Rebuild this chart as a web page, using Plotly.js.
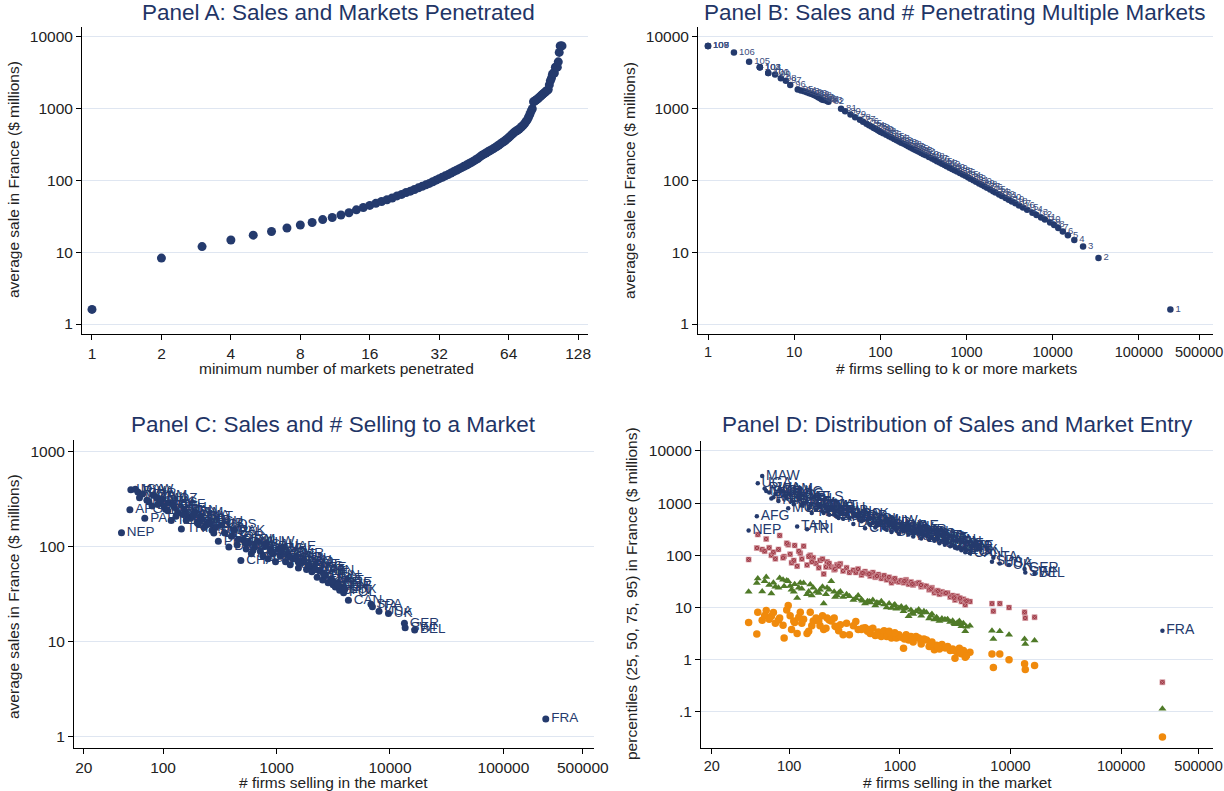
<!DOCTYPE html>
<html>
<head>
<meta charset="utf-8">
<script src="https://cdn.plot.ly/plotly-3.0.1.min.js"></script>
<style>
html,body{margin:0;padding:0;background:#fff;}
#chart{width:1224px;height:791px;}
</style>
</head>
<body>
<div id="chart"></div>
<script>
// ---------- Panels A & B : k = minimum number of markets ----------
const kMarkets = [1,2,3,4,5,6,7,8,9,10,11,12,13,14,15,16,17,18,19,20,21,22,23,24,25,26,27,28,29,30,
31,32,33,34,35,36,37,38,39,40,41,42,43,44,45,46,47,48,49,50,51,52,53,54,55,56,57,58,59,60,
61,62,63,64,65,66,67,68,69,70,71,72,73,74,75,76,77,78,79,80,81,82,83,84,85,86,87,88,89,90,
91,92,93,94,95,96,97,98,99,100,101,102,103,104,105,106,107,108,109];
const avgSale = [1.6,8.3,12,14.8,17.3,19.5,21.8,24,26,28.5,30.5,33,35.5,39,42,45,48,51,54,57,
61,64,68,71,75,79,83,87,91,96,101,106,111,116,121,127,133,139,145,151,158,164,171,178,186,194,202,213,224,233,
242,251,260,269,278,289,300,312,324,337,350,364,380,396,415,435,455,475,490,505,520,540,565,590,620,660,700,760,830,920,
1000,1250,1280,1320,1350,1400,1450,1500,1550,1600,1650,1700,1750,1800,1850,2150,2450,2650,3000,3150,3150,3800,3800,3800,4500,6100,7500,7500,7500];
const firmsK = [232000,34000,22500,17800,15000,13100,11600,10400,9330,8110,7330,6480,5820,5050,4520,4070,3690,3360,3090,2840,
2570,2390,2170,2040,1880,1730,1610,1500,1400,1290,1200,1110,1040,970,905,838,778,726,679,635,590,556,520,489,454,425,399,367,338,317,
298,281,266,252,239,224,211,199,187,175,165,155,145,135,126,117,108,101,97,93,89,84,79,74,69,63,58,51,45,39,
35,25,24,22,21,20,19,18,17,16,15,14,13,12,11,9,8,7,6,5,5,4,4,4,3,2,1,1,1];

// ---------- Panels C & D : destination markets ----------
const countries = ["NEP","AFG","UGA","MAW","MOL","PAR","BOL","ZAM","LAO","MOZ","HON","NIC","TAN","ETH","JAM","TRI","BAN","ELS","GUA","ZIM",
"KEN","SRI","URU","ECU","SUD","PAN","PER","COS","VEN","DOM","JOR","PAK","NGA","CHA","COL","PHI","MAU","IRN","SYR","KUW",
"IND","IDN","SAU","GHA","ARG","MAD","THA","MAL","EGY","UAE","MEX","CMR","KOR","SEN","ISR","CIV","BRA","SIN","TWN","HKG",
"GAB","NZE","TUR","CHN","AUS","HUN","CZE","SAF","ICE","TUN","GRE","JPN","FIN","POL","CAN","SPA","ITA","USA","UK","GER",
"SWI","BEL",
"RWA","BUR","MLI","NIG","GUI","BEN","TOG","MRT","CAF","CGO","HAI","YEM","OMA","BAH","QAT","LIB","CUB","ANG","ROM","BUL",
"RUS","CHL","SLV","SLO","CRO","EST","LAT","LIT","MLT","CYP","LUX",
"FRA"];
const firmsMarket = [43,51,52,57,62,69,75,82,90,98,105,112,118,126,135,145,155,165,175,190,
205,220,240,255,270,290,307,330,350,380,400,420,450,485,510,540,570,600,640,680,
720,760,800,840,880,930,980,1030,1080,1140,1200,1260,1320,1400,1480,1560,1650,1740,1840,1950,
2050,2150,2280,2400,2550,2700,2850,3000,3150,3300,3450,3600,3750,3900,4300,6800,7000,8000,9700,13400,
13600,16500,
60,66,72,80,88,95,102,110,122,130,150,160,185,200,215,230,260,280,460,530,
900,620,1100,1300,1550,1900,2200,2600,3100,3500,4000,
236000];
const avgSalesMarket = [141,247,400,405,330,200,300,350,280,320,250,290,190,260,230,155,240,210,200,230,
175,195,170,185,150,160,115,170,140,100,130,150,105,72,120,95,110,85,100,115,
90,80,105,75,95,85,70,95,80,100,70,85,65,75,78,60,68,72,58,62,
55,60,48,56,45,50,42,46,40,38,42,35,38,33,27.5,25,23.5,21,20,15.7,
14.1,13.4,
380,360,310,270,330,300,270,240,280,210,220,190,215,180,210,160,175,140,120,110,
88,92,90,78,70,65,58,52,44,40,36,
1.55];
const p95 = [300,560,2400,3300,1700,1230,1500,1800,1400,800,1100,1600,355,1200,1000,315,900,1300,750,850,
650,700,800,600,550,650,500,600,520,400,560,600,450,330,480,380,420,340,400,450,
330,310,380,280,360,300,260,340,290,350,250,300,230,270,280,210,240,250,200,220,
190,210,170,190,160,175,150,160,140,135,145,125,135,115,110,75,90,70,65,55,
47,45,
1900,1600,1300,1100,1700,1250,1450,950,1300,900,780,650,900,700,850,600,700,520,470,400,
330,370,320,270,250,230,200,180,150,140,125,
3.6];
const p75 = [83,138,250,130,205,100,86,240,95,160,72,155,62,110,150,65,100,90,70,80,
44,75,60,53,66,69,50,58,47,52,47,55,42,49,45,40,47,38,43,36,
41,34,38,30,35,32,31,33,30,34,28,31,27,29,30,25,26,25.5,22,24,
19.3,21,18,20,18.5,19,16,17,14,16.4,15,13,14.5,11.3,13,11.9,8.5,11.9,10,8.1,
6.3,6.5,
120,140,115,130,90,170,105,80,120,85,95,75,58,85,60,70,55,62,46,44,
36,40,32,28,27,23,21,19,15.5,15,13.5,
0.37];
const p50 = [20,29.6,36,20.4,38.5,18.6,25,36.8,25.5,31.8,22,28,15.2,30,29.6,18,27.5,24,20,22,
11.9,24,31.8,20,17,20.4,16,18,16.4,14,15,17,14.2,12,13.2,12.5,14,11,12,13.2,
11.5,10,12,9.8,11,9.5,9.8,10.5,8.5,10,6.8,9,7.5,8.5,9.2,7,8.5,8,6.2,7.5,
5.9,6.5,5.5,6.2,5.9,6,5.3,5.6,4.8,5.1,5.5,4.4,5,3.5,4.5,3.6,2.5,3.5,3,2.5,
2,2.35,
32,27,30,24,34,33,26,20,24,23,20.4,17,19,25,18,22,16,19,13.5,13,
11.5,12.5,9.5,8,8,7,6,5.8,5,4.8,4.3,
0.115];
const p25 = [5.2,3.1,8.1,5.7,8.8,6.8,5,6.3,2.6,11,3.8,5.2,3.2,8.1,6,3.2,8.1,5.5,6.3,4.5,
3.8,6.3,5.5,6.3,4.2,4.7,3,5,3,4.5,5.4,3.8,3.8,4.1,3.5,3.2,4,2.9,3.4,2.8,
3.6,2.8,3.5,2.6,3,2.6,3,2.7,1.66,3,2.4,2.8,2.2,2.8,2.6,2,2.5,2.4,1.8,2.2,
1.55,1.9,1.6,1.95,1.7,1.8,1.5,1.6,1.07,1.4,1.66,1.3,1.5,1.12,1.4,1.29,0.71,1.29,1,0.84,
0.65,0.78,
7,6,8,5.8,4.6,9,7,5.5,6.5,5,3.5,4.5,5.5,7,4,5.8,4.4,3.6,4,3.8,
3.3,3,2.5,2.4,2.3,2,1.8,1.7,1.5,1.35,1.2,
0.033];

const ticksA = [1,2,4,8,16,32,64,128];
const ticksBig = [1,10,100,1000,10000,100000,500000];
const ticksCD = [20,100,1000,10000,100000,500000];
const ticksY4 = [1,10,100,1000,10000];
const ticksY3 = [1,10,100,1000];
const ticksYD = [0.1,1,10,100,1000,10000];
const ticksYDtext = [".1","1","10","100","1000","10000"];

// ---------- styling ----------
const W = 1224, H = 791;
const NAVY = '#243a6d';
const FONT = 'Liberation Sans, Arial, Helvetica, sans-serif';
const GRID = '#dfe6f1';
const px = v => v / W;
const py = v => 1 - v / H;

function xAx(l, r, range, vals, text, fs) {
  return {
    domain: [px(l), px(r)], type: 'log', range: range, tickmode: 'array',
    tickvals: vals, ticktext: text || vals.map(String), ticklabeloverflow: 'allow',
    showgrid: false, zeroline: false, showline: true, linecolor: '#000', linewidth: 1,
    ticks: 'outside', ticklen: 5, tickcolor: '#000', tickwidth: 1,
    tickfont: {family: FONT, size: fs || 15.5, color: '#222'}, fixedrange: true
  };
}
function yAx(t, b, range, vals, text) {
  return {
    domain: [py(b), py(t)], type: 'log', range: range, tickmode: 'array',
    tickvals: vals, ticktext: text || vals.map(String), ticklabeloverflow: 'allow',
    showgrid: true, gridcolor: GRID, gridwidth: 1, zeroline: false,
    showline: true, linecolor: '#000', linewidth: 1,
    ticks: 'outside', ticklen: 5, tickcolor: '#000', tickwidth: 1,
    tickfont: {family: FONT, size: 15.5, color: '#222'}, fixedrange: true
  };
}

const traces = [
  { // Panel A
    x: kMarkets, y: avgSale, xaxis: 'x', yaxis: 'y', type: 'scatter', mode: 'markers',
    marker: {size: 9, color: NAVY}, cliponaxis: false
  },
  { // Panel B
    x: firmsK, y: avgSale, text: kMarkets.map(String), xaxis: 'x2', yaxis: 'y2',
    type: 'scatter', mode: 'markers+text', textposition: 'middle right',
    textfont: {family: FONT, size: 9.5, color: '#3c4e7e'},
    marker: {size: 6.5, color: NAVY}
  },
  { // Panel C
    x: firmsMarket, y: avgSalesMarket, text: countries, xaxis: 'x3', yaxis: 'y3',
    type: 'scatter', mode: 'markers+text', textposition: 'middle right',
    textfont: {family: FONT, size: 13.5, color: NAVY},
    marker: {size: 7, color: NAVY}
  },
  { // Panel D 75th
    x: firmsMarket, y: p75, xaxis: 'x4', yaxis: 'y4', type: 'scatter', mode: 'markers',
    marker: {size: 5, color: '#9b3340', symbol: 'square-x', line: {color: '#d9a0a6', width: 0.6}}
  },
  { // Panel D 50th
    x: firmsMarket, y: p50, xaxis: 'x4', yaxis: 'y4', type: 'scatter', mode: 'markers',
    marker: {size: 7, color: '#4f7a28', symbol: 'triangle-up'}
  },
  { // Panel D 25th
    x: firmsMarket, y: p25, xaxis: 'x4', yaxis: 'y4', type: 'scatter', mode: 'markers',
    marker: {size: 7.5, color: '#f08a0c', symbol: 'circle'}
  },
  { // Panel D 95th
    x: firmsMarket, y: p95, text: countries, xaxis: 'x4', yaxis: 'y4',
    type: 'scatter', mode: 'markers+text', textposition: 'middle right',
    textfont: {family: FONT, size: 14, color: NAVY},
    marker: {size: 4.5, color: NAVY}
  }
];

function ann(text, x, y, size, color, angle) {
  return {text: text, x: px(x), y: py(y), xref: 'paper', yref: 'paper',
    showarrow: false, xanchor: 'center', yanchor: 'middle', textangle: angle || 0,
    font: {family: FONT, size: size, color: color}};
}
const TCOL = '#1f3566';
const annotations = [
  ann('Panel A: Sales and Markets Penetrated', 338, 13, 22.5, TCOL),
  ann('Panel B: Sales and # Penetrating Multiple Markets', 955, 13, 22.5, TCOL),
  ann('Panel C: Sales and # Selling to a Market', 334, 425, 22.5, TCOL),
  ann('Panel D: Distribution of Sales and Market Entry', 957, 425, 22.5, TCOL),
  ann('minimum number of markets penetrated', 336, 369, 15.5, '#222'),
  ann('# firms selling to k or more markets', 956, 369, 15.5, '#222'),
  ann('# firms selling in the market', 333, 782, 15.5, '#222'),
  ann('# firms selling in the market', 957, 782, 15.5, '#222'),
  ann('average sale in France ($ millions)', 13, 180, 15.5, '#222', -90),
  ann('average sale in France ($ millions)', 629, 180, 15.5, '#222', -90),
  ann('average sales in France ($ millions)', 13, 597, 15.5, '#222', -90),
  ann('percentiles (25, 50, 75, 95) in France ($ millions)', 631, 593, 15.5, '#222', -90)
];

const layout = {
  width: W, height: H, margin: {l: 0, r: 0, t: 0, b: 0},
  paper_bgcolor: '#fff', plot_bgcolor: '#fff', showlegend: false,
  font: {family: FONT},
  xaxis: Object.assign(xAx(82, 588, [-0.0433, 2.15], ticksA), {anchor: 'y'}),
  yaxis: Object.assign(yAx(27, 334, [-0.139, 4.139], ticksY4), {anchor: 'x'}),
  xaxis2: Object.assign(xAx(698, 1213, [-0.116, 5.86], ticksBig, null, 14.5), {anchor: 'y2'}),
  yaxis2: Object.assign(yAx(27, 334, [-0.139, 4.139], ticksY4), {anchor: 'x2'}),
  xaxis3: Object.assign(xAx(74, 594, [1.215, 5.798], ticksCD), {anchor: 'y3'}),
  yaxis3: Object.assign(yAx(440, 748, [-0.116, 3.126], ticksY3), {anchor: 'x3'}),
  xaxis4: Object.assign(xAx(701, 1213, [1.203, 5.83], ticksCD, null, 14.5), {anchor: 'y4'}),
  yaxis4: Object.assign(yAx(441, 748, [-1.69, 4.19], ticksYD, ticksYDtext), {anchor: 'x4'}),
  annotations: annotations
};

Plotly.newPlot('chart', traces, layout, {staticPlot: true, displayModeBar: false});
</script>
</body>
</html>
